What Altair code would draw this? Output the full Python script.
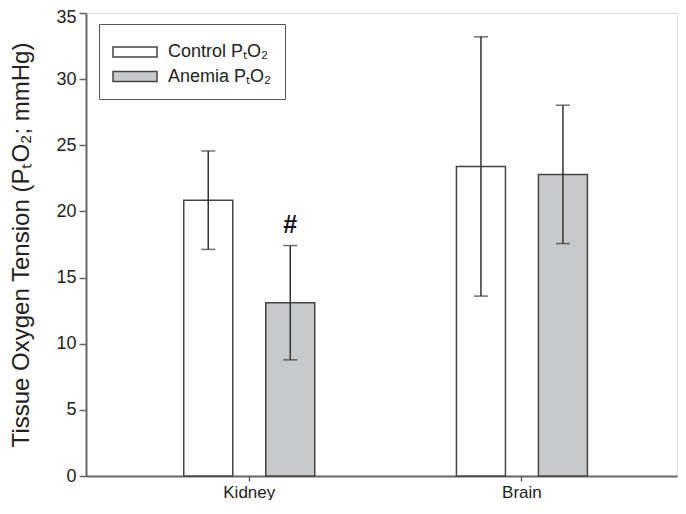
import altair as alt
import pandas as pd

organs = ["Kidney", "Kidney", "Brain", "Brain"]
groups = ["Control PₜO₂", "Anemia PₜO₂", "Control PₜO₂", "Anemia PₜO₂"]
means = [20.85, 13.1, 23.4, 22.8]
errors = [3.72, 4.32, 9.8, 5.23]
notes = ["", "#", "", ""]

organ_order = ["Kidney", "Brain"]
group_order = ["Control PₜO₂", "Anemia PₜO₂"]

df = pd.DataFrame({"organ": organs, "group": groups, "mean": means, "err": errors, "note": notes})
df["lo"] = df["mean"] - df["err"]
df["hi"] = df["mean"] + df["err"]

FONT = "Liberation Sans"

x = alt.X("organ:N", sort=organ_order,
          scale=alt.Scale(paddingInner=0, paddingOuter=0.0836, align=0.59),
          axis=alt.Axis(title=None, labelAngle=0, labelFontSize=17, labelFont=FONT,
                        labelColor="#222", tickSize=5, tickColor="#555", tickWidth=1.3,
                        domainColor="#666", domainWidth=2, labelPadding=3))
xo = alt.XOffset("group:N", sort=group_order,
                 scale=alt.Scale(paddingInner=0.4024, paddingOuter=0.864))
yax = alt.Axis(title="Tissue Oxygen Tension (PₜO₂; mmHg)", values=list(range(0, 36, 5)),
               grid=False, labelFontSize=18, labelFont=FONT, labelColor="#222",
               labelOffset={"expr": "datum.value == 35 ? 4 : 0"},
               tickSize=7, tickColor="#666", tickWidth=1.5, domainColor="#666", domainWidth=2,
               labelPadding=3, titleFontSize=24, titleFont=FONT, titleColor="#222",
               titleFontWeight="normal", titlePadding=22)
yscale = alt.Scale(domain=[0, 35], nice=False, zero=True)

base = alt.Chart(df)

bars = base.mark_bar(stroke="#444", strokeWidth=1.5).encode(
    x=x, xOffset=xo,
    y=alt.Y("mean:Q", scale=yscale, axis=yax),
    fill=alt.Fill("group:N", sort=group_order,
                  scale=alt.Scale(domain=group_order, range=["#ffffff", "#c8c9cb"]),
                  legend=alt.Legend(title=" ", titleFontSize=2, titlePadding=1,
                                    orient="none", legendX=13, legendY=11,
                                    symbolType="M-2,-0.45H2V0.45H-2Z", symbolSize=484,
                                    symbolOffset=11, labelOffset=21,
                                    strokeColor="#555", fillColor="white", padding=13,
                                    rowPadding=3.5, labelFontSize=18, labelFont=FONT,
                                    labelColor="#222", symbolStrokeColor="#444",
                                    symbolStrokeWidth=1.5, labelLimit=300))
)

rules = base.mark_rule(color="#333", strokeWidth=1.5).encode(
    x=x, xOffset=xo, y=alt.Y("lo:Q", scale=yscale), y2="hi:Q"
)
caps_hi = base.mark_tick(color="#333", size=14, thickness=1.5).encode(
    x=x, xOffset=xo, y=alt.Y("hi:Q", scale=yscale)
)
caps_lo = base.mark_tick(color="#333", size=14, thickness=1.5).encode(
    x=x, xOffset=xo, y=alt.Y("lo:Q", scale=yscale)
)
text = base.mark_text(fontSize=25, fontWeight="bold", font=FONT, color="#111",
                      dy=-21, baseline="middle").encode(
    x=x, xOffset=xo, y=alt.Y("hi:Q", scale=yscale), text="note:N"
)

chart = alt.layer(bars, rules, caps_hi, caps_lo, text).properties(
    width=591, height=463,
    autosize=alt.AutoSizeParams(type="none"),
    padding={"left": 78, "top": 5, "right": 1, "bottom": 24},
).configure_view(stroke="#666", strokeWidth=1.5).configure(background="white")

chart.save("out.html", embed_options={"renderer": "svg", "actions": False})
